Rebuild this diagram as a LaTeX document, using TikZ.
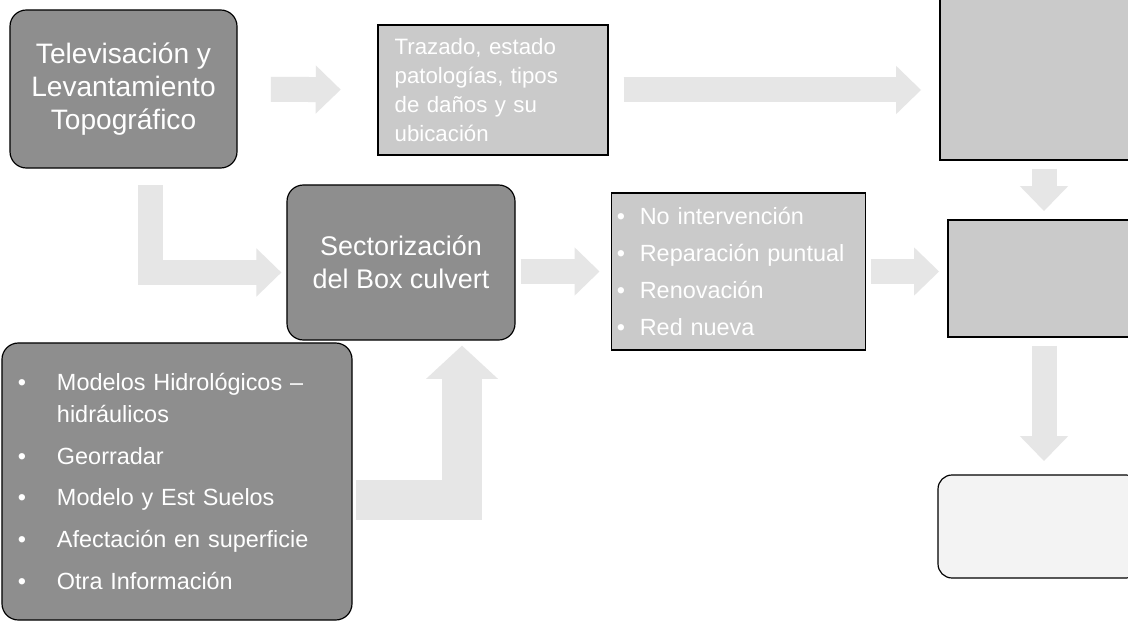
\documentclass[tikz,border=0pt]{standalone}
\usepackage{fontspec}
\setmainfont{Liberation Sans}
\usepackage{xcolor}
\usetikzlibrary{arrows.meta,positioning}
\definecolor{darkfill}{HTML}{8E8E8E}
\definecolor{lightfill}{HTML}{CACACA}
\definecolor{paper}{HTML}{F3F3F3}
\definecolor{haze}{HTML}{E6E6E6}
\newcommand{\itm}{\makebox[1.17cm][l]{\textbullet}}
\newcommand{\opt}{\makebox[0.69cm][l]{\textbullet}}
\tikzset{
  box/.style={draw=black, line width=1pt, inner sep=0pt, text=white},
  dbox/.style={box, fill=darkfill, rounded corners=14pt, align=center},
  lbox/.style={box, fill=lightfill, align=left},
  blk/.style={-{Triangle[width=1.4cm,length=0.75cm]}, draw=haze, line width=0.75cm},
  bigblk/.style={-{Triangle[width=2.1cm,length=1cm]}, draw=haze, line width=1.2cm},
}
\begin{document}
\begin{tikzpicture}[x=0.03cm,y=-0.03cm]
\useasboundingbox (0,0) rectangle (1128,623);
\fill[white] (0,0) rectangle (1128,623);
\clip (0,0) rectangle (1128,623);
\coordinate (upfoot) at (462,500);
\node[dbox, minimum width=6.81cm, minimum height=4.74cm, font={\fontsize{24}{28}\selectfont}] (tele) at (123.5,89)
  {Televisación y\\Levantamiento\\Topográfico};
\node[lbox, minimum height=3.9cm, text width=5.9cm, inner xsep=0.5cm, font={\fontsize{19}{25}\selectfont}] (traz) at (493,90)
  {Trazado, estado\\patologías, tipos\\de daños y su\\ubicación};
\node[lbox, minimum width=6cm, minimum height=4.95cm] (topr) at (1040,77.5) {};
\node[dbox, minimum width=6.84cm, minimum height=4.65cm, font={\fontsize{23}{28}\selectfont}] (sect) at (401,262.5)
  {Sectorización\\del Box culvert};
\node[lbox, text width=7.3cm, inner xsep=0.15cm, minimum height=4.71cm, font={\fontsize{20}{31.5}\selectfont}] (opts) at (738.5,271.5)
  {\opt No intervención\\\opt Reparación puntual\\\opt Renovación\\\opt Red nueva};
\node[lbox, minimum width=5.76cm, minimum height=3.51cm] (midr) at (1044,278.5) {};
\node[box, fill=paper, rounded corners=12pt, minimum width=6.06cm, minimum height=3.09cm] (botr) at (1039,526.5) {};
\node[dbox, align=left, text width=9.54cm, inner xsep=0.48cm, minimum height=8.31cm, font={\fontsize{20}{27}\selectfont}] (info) at (177,481.5)
  {\itm Modelos Hidrológicos –\\\hspace*{1.17cm}hidráulicos\\[8.7pt]
   \itm Georradar\\[8.7pt]
   \itm Modelo y Est Suelos\\[8.7pt]
   \itm Afectación en superficie\\[8.7pt]
   \itm Otra Información};
% faint block arrows
\draw[blk, shorten <=1cm, shorten >=1.1cm] (tele) -- (traz);
\draw[blk, shorten <=0.45cm, shorten >=0.55cm] (traz.east) -- (topr.west |- traz.east);
\draw[blk, shorten <=0.15cm, shorten >=0.35cm] (sect.east |- opts.west) -- (opts.west);
\draw[blk, shorten <=0.15cm, shorten >=0.25cm] (opts.east) -- (midr.west |- opts.east);
\draw[blk, shorten <=0.25cm, shorten >=0.25cm] (topr.south -| midr.north) -- (midr.north);
\draw[blk, shorten <=0.25cm, shorten >=0.4cm] (midr.south) -- (midr.south |- botr.north);
\draw[blk, shorten <=0.5cm, shorten >=0.15cm] ([xshift=0.8cm]tele.south) |- ([yshift=-0.3cm]sect.west);
\draw[bigblk, shorten <=0.1cm, shorten >=0.15cm] (info.east |- upfoot) -| (sect.south -| upfoot);
\end{tikzpicture}
\end{document}
